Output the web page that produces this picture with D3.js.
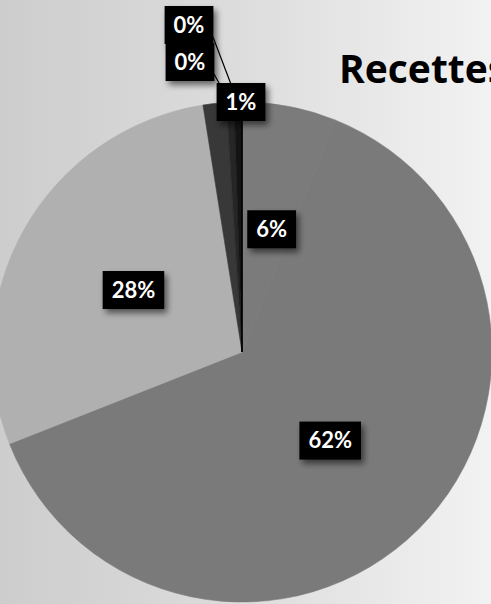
<!DOCTYPE html>
<html>
<head>
<meta charset="utf-8">
<script src="https://cdn.jsdelivr.net/npm/d3@7"></script>
<style>
  html, body { margin: 0; padding: 0; overflow: hidden; background: #e2e2e2; }
  svg { display: block; }
</style>
</head>
<body>
<div id="chart"></div>
<script>
// Recettes - pie chart (scanned Excel chart, grayscale)

// slices in clockwise order from 12 o'clock
const categories = ['Poste A', 'Poste B', 'Poste C', 'Poste D', 'Poste E', 'Poste F'];
const values = [6.0, 62.3, 28.2, 1.49, 0.49, 0.49];
const title = 'Recettes';

const sliceColors = ['#7b7b7b', '#7a7a7a', '#b0b0b0', '#383838', '#262626', '#141414'];

function drawPie() {
  const width = 491;
  const height = 604;
  const cx = 242, cy = 352, r = 250;

  const data = categories.map((c, i) => ({ name: c, value: values[i] }));

  const svg = d3.select('#chart')
    .append('svg')
    .attr('width', width)
    .attr('height', height);

  const defs = svg.append('defs');

  // background: scan is darker on the left, almost white on the right
  const bg = defs.append('linearGradient')
    .attr('id', 'bg')
    .attr('x1', 0).attr('x2', 1).attr('y1', 0).attr('y2', 0);
  bg.append('stop').attr('offset', '0%').attr('stop-color', '#cdcdcd');
  bg.append('stop').attr('offset', '45%').attr('stop-color', '#dbdbdb');
  bg.append('stop').attr('offset', '100%').attr('stop-color', '#f2f2f2');

  // soft shadow under the label boxes
  const shadow = defs.append('filter')
    .attr('id', 'shadow')
    .attr('x', '-30%').attr('y', '-30%')
    .attr('width', '170%').attr('height', '170%');
  shadow.append('feGaussianBlur').attr('in', 'SourceAlpha').attr('stdDeviation', 3);
  shadow.append('feOffset').attr('dx', 3).attr('dy', 4).attr('result', 'blur');
  shadow.append('feComponentTransfer')
    .append('feFuncA').attr('type', 'linear').attr('slope', 0.55);
  const merge = shadow.append('feMerge');
  merge.append('feMergeNode');
  merge.append('feMergeNode').attr('in', 'SourceGraphic');

  svg.append('rect')
    .attr('width', width)
    .attr('height', height)
    .attr('fill', 'url(#bg)');

  const pie = d3.pie()
    .sort(null)
    .value(d => d.value);

  const arcs = pie(data);

  const arc = d3.arc()
    .innerRadius(0)
    .outerRadius(r);

  const labelArc = d3.arc()
    .innerRadius(r * 0.5)
    .outerRadius(r * 0.5);

  const g = svg.append('g')
    .attr('transform', `translate(${cx},${cy})`);

  g.selectAll('.slice')
    .data(arcs)
    .enter()
    .append('path')
    .attr('class', 'slice')
    .attr('d', arc)
    .attr('fill', (d, i) => sliceColors[i])
    .attr('stroke', (d, i) => sliceColors[i])
    .attr('stroke-width', 0.6);

  // line at 12 o'clock between the small slices and the first one
  g.append('line')
    .attr('x1', 0).attr('y1', 0)
    .attr('x2', 0).attr('y2', -r)
    .attr('stroke', '#000')
    .attr('stroke-width', 1.6);

  // label positions: big slices at half radius, small ones stacked above the top
  const smallPos = [[-1, -r], [-52, -r - 40], [-53, -r - 77]];
  let k = 0;
  const labels = arcs.map(d => {
    let x, y, small = false;
    if (d.data.value >= 5) {
      [x, y] = labelArc.centroid(d);
      if (d.data.value < 10) x += 6;
    } else {
      [x, y] = smallPos[k++];
      small = true;
    }
    return { d, x, y, small, text: Math.round(d.data.value) + '%' };
  });

  // leader lines for the 0% labels
  const rim = d3.arc().innerRadius(r - 1).outerRadius(r - 1);
  labels.filter(l => l.small && l.d.data.value < 0.5).forEach(l => {
    const [rx, ry] = rim.centroid(l.d);
    g.append('line')
      .attr('x1', l.x + 24).attr('y1', l.y + 12)
      .attr('x2', rx).attr('y2', ry)
      .attr('stroke', '#000')
      .attr('stroke-width', 1.2);
  });

  labels.forEach(l => {
    const lg = g.append('g')
      .attr('transform', `translate(${l.x},${l.y})`);

    const txt = lg.append('text')
      .attr('text-anchor', 'middle')
      .attr('dy', '0.35em')
      .style('font-family', 'Lato, "Open Sans", sans-serif')
      .style('font-size', '22px')
      .style('font-weight', 'bold')
      .attr('fill', '#fff')
      .text(l.text);

    const w = txt.node().getComputedTextLength() + 18;
    const h = 38;

    lg.insert('rect', 'text')
      .attr('x', -w / 2)
      .attr('y', -h / 2)
      .attr('width', w)
      .attr('height', h)
      .attr('fill', '#050505')
      .attr('filter', 'url(#shadow)');
  });

  // chart title, cut by the right edge as in the scan
  svg.append('text')
    .attr('x', 339)
    .attr('y', 83)
    .style('font-family', '"Open Sans", sans-serif')
    .style('font-size', '39px')
    .style('font-weight', 'bold')
    .style('font-variant-ligatures', 'none')
    .attr('fill', '#000')
    .text(title);
}

drawPie();
</script>
</body>
</html>
